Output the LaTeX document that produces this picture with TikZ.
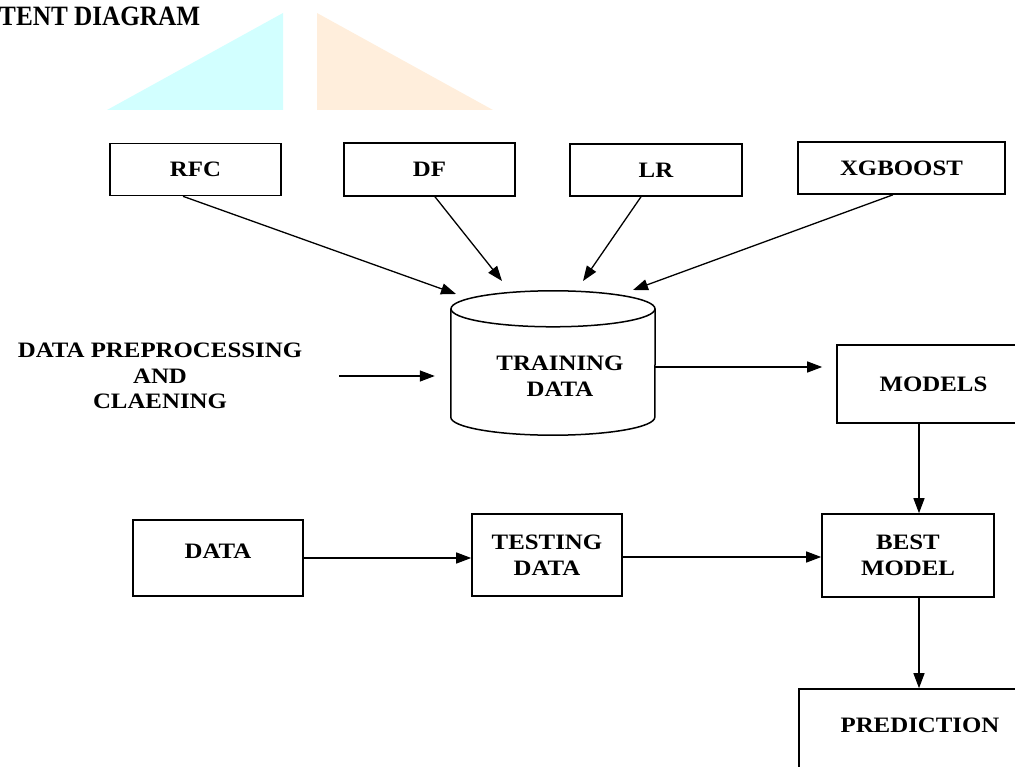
\documentclass[tikz,border=0pt]{standalone}
\usepackage{fontspec}
\setmainfont{Liberation Serif}
\newfontfamily\etichetta[FakeStretch=1.13]{Liberation Serif}
\newfontfamily\titolofont[FakeStretch=0.9]{Liberation Serif}
\usepackage{xcolor}
\usepackage{tikz}
\usetikzlibrary{
	positioning,    % Per posizionare i nodi
	arrows.meta,    % Per le punte delle frecce
	calc            % Per calcolare le coordinate
}
\definecolor{ciano}{HTML}{D2FFFF}
\definecolor{arancio}{HTML}{FFEEDC}

\begin{document}
\begin{tikzpicture}[
				x=1pt, y=-1pt,
				blocco/.style={draw, line width=1.6pt, rectangle, align=center,
					font=\etichetta\bfseries\fontsize{22}{26.5}\selectfont},
				testo/.style={align=center, inner sep=0pt,
					font=\etichetta\bfseries\fontsize{22}{25.5}\selectfont},
				freccia/.style={-{Triangle[length=15pt, width=11pt]}, line width=1.3pt},
				bordo/.style={line width=1.5pt}
				]
				
				% --- Margini ---
				\useasboundingbox (0,0) rectangle (1015,767);
				\clip (0,0) rectangle (1015,767);
				
				% --- Titolo e sfondo ---
				\fill[ciano] (107,110) -- (283,110) -- (283,13) -- cycle;
				\fill[arancio] (317,110) -- (317,13) -- (493,110) -- cycle;
				\node[anchor=base west, inner sep=0pt, font=\titolofont\bfseries\fontsize{28}{32}\selectfont]
				(titolo) at (-1,26) {TENT DIAGRAM};
				
				% --- Modelli in alto ---
				\node[blocco, minimum width=171, minimum height=52] (rfc) at (195.5,169.5) {RFC};
				\node[blocco, minimum width=171, minimum height=53] (df) at (429.5,169.5) {DF};
				\node[blocco, minimum width=172, minimum height=52] (lr) at (656,170) {LR};
				\node[blocco, minimum width=207, minimum height=52] (xgb) at (901.5,168) {XGBOOST};
				
				% --- Cilindro dei dati di training ---
				\node[minimum width=204, minimum height=144, inner sep=0pt] (train) at (553,363) {};
				\draw[bordo] ($(train.north)+(0,18)$) ellipse [x radius=102pt, y radius=18pt];
				\draw[bordo] ($(train.north west)+(0,18)$) -- ($(train.south west)+(0,-18)$)
				arc[start angle=180, end angle=360, x radius=102pt, y radius=18pt]
				-- ($(train.north east)+(0,18)$);
				\node[testo] (traintxt) at ($(train.center)+(7,13)$) {TRAINING\\DATA};
				
				% --- Preprocessing ---
				\node[testo] (prep) at (160,376) {DATA PREPROCESSING\\AND\\CLAENING};
				
				% --- Altri blocchi ---
				\node[blocco, minimum width=193, minimum height=78] (models) at (933.5,384) {MODELS};
				\node[blocco, minimum width=170, minimum height=76] (dati) at (218,558)
				{\raisebox{0pt}[0pt][0pt]{DATA}};
				\node[blocco, minimum width=150, minimum height=82] (test) at (547,555) {TESTING\\DATA};
				\node[blocco, minimum width=172, minimum height=83] (best) at (908,555.5) {BEST\\MODEL};
				\node[blocco, minimum width=242, minimum height=101] (pred) at (920,739.5)
				{\raisebox{7.5pt}[0pt][0pt]{PREDICTION}};
				
				% --- Frecce ---
				\draw[freccia] ($(rfc.south)+(-12.5,0)$) -- ($(train.center)+(-97,-69)$);
				\draw[freccia] ($(df.south)+(5.5,0)$) -- ($(train.center)+(-51,-82)$);
				\draw[freccia] ($(lr.south)+(-15,0)$) -- ($(train.center)+(30,-82)$);
				\draw[freccia] ($(xgb.south)+(-8.5,0)$) -- ($(train.center)+(80,-73)$);
				\draw[freccia] ($(prep.east)+(37,0)$) -- ($(train.west)+(-16,13)$);
				\draw[freccia] ($(train.east)+(0,4)$) -- ($(models.west)+(-14,-17)$);
				\draw[freccia] ($(models.south)+(-14.5,0)$) -- ($(best.north)+(11,0)$);
				\draw[freccia] (dati.east) -- (dati.east -| test.west);
				\draw[freccia] ($(test.east)+(0,2)$) -- ($(best.west)+(0,1.5)$);
				\draw[freccia] ($(best.south)+(11,0)$) -- ($(pred.north)+(-1,0)$);
				
			\end{tikzpicture}
\end{document}
